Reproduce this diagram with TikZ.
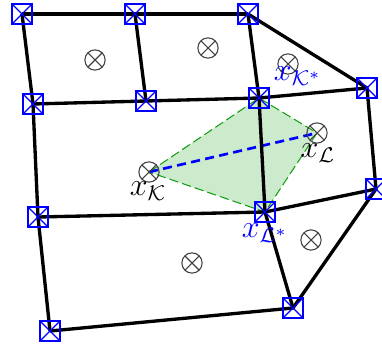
\documentclass[tikz,border=0pt]{standalone}
\usetikzlibrary{backgrounds}
\definecolor{lgreen}{RGB}{204,234,204}
\definecolor{dgreen}{RGB}{20,160,20}
\begin{document}
\begin{tikzpicture}[x=0.375pt,y=-0.375pt,
  vtx/.style={rectangle, draw=blue, line width=0.5pt, minimum size=7.6pt, inner sep=0pt,
    path picture={\draw[blue,line width=0.5pt] (path picture bounding box.north west) -- (path picture bounding box.south east)
      (path picture bounding box.north east) -- (path picture bounding box.south west);}},
  ctr/.style={circle, draw=black!75, line width=0.4pt, minimum size=7.6pt, inner sep=0pt,
    path picture={\draw[black!75,line width=0.4pt] (path picture bounding box.north west) -- (path picture bounding box.south east)
      (path picture bounding box.north east) -- (path picture bounding box.south west);}},
  meshedge/.style={black, line width=1.25pt},
  lbl/.style={inner sep=0pt, font=\large}
]
\useasboundingbox (0,0) rectangle (382,348);
% vertices
\node[vtx] (A) at (22,14) {};
\node[vtx] (B) at (135,14) {};
\node[vtx] (C) at (248,14) {};
\node[vtx] (D) at (33,104) {};
\node[vtx] (E) at (146,101) {};
\node[vtx] (F) at (259,98) {};
\node[vtx] (G) at (367,88) {};
\node[vtx] (H) at (38,217) {};
\node[vtx] (I) at (265,212) {};
\node[vtx] (J) at (376,189) {};
\node[vtx] (K) at (50,331) {};
\node[vtx] (L) at (293,308) {};
% cell centres
\node[ctr] (c1) at (95,60) {};
\node[ctr] (c2) at (208,48) {};
\node[ctr] (cKs) at (288,64) {};
\node[ctr] (cL) at (317,133) {};
\node[ctr] (cK) at (149,172) {};
\node[ctr] (c6) at (192,263) {};
\node[ctr] (c7) at (311,240) {};
% labels
\node[lbl] (tK) at (148,191) {$x_{\mathcal{K}}$};
\node[lbl] (tL) at (318,153) {$x_{\mathcal{L}}$};
\node[lbl, text=blue] (tKs) at (298,76) {$x_{\mathcal{K}^*}$};
\node[lbl, text=blue] (tLs) at (265,233) {$x_{\mathcal{L}^*}$};
\begin{scope}[on background layer]
  \filldraw[fill=lgreen, draw=dgreen, line width=0.4pt, dash pattern=on 3.5pt off 1.5pt]
    (cK.center) -- (F.center) -- (cL.center) -- (I.center) -- cycle;
  \draw[blue, line width=1pt, dash pattern=on 3.4pt off 2pt] (cK.center) -- (cL.center);
  \draw[meshedge] (A.center) -- (B.center) -- (C.center);
  \draw[meshedge] (A.center) -- (D.center) -- (H.center) -- (K.center);
  \draw[meshedge] (B.center) -- (E.center);
  \draw[meshedge] (C.center) -- (F.center) -- (I.center) -- (L.center);
  \draw[meshedge] (C.center) -- (G.center) -- (J.center) -- (L.center) -- (K.center);
  \draw[meshedge] (D.center) -- (E.center) -- (F.center) -- (G.center);
  \draw[meshedge] (H.center) -- (I.center) -- (J.center);
\end{scope}
\end{tikzpicture}
\end{document}
